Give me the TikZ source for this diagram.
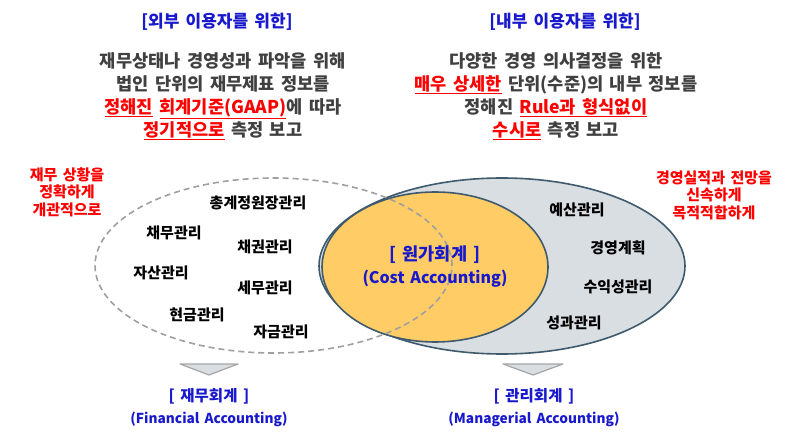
\documentclass[tikz,border=0pt]{standalone}
\usepackage{fontspec}
\setmainfont{Noto Sans CJK KR}[WordSpace=1.6]
\usepackage{xcolor}
\usetikzlibrary{positioning}
\definecolor{titleblue}{RGB}{24,24,204}
\definecolor{bodygray}{RGB}{64,64,64}
\definecolor{hired}{RGB}{255,0,0}
\definecolor{edgeblue}{RGB}{62,90,108}
\definecolor{costorange}{RGB}{255,204,102}
\definecolor{mgmtgray}{RGB}{217,222,227}
\newcommand{\redul}[1]{\textcolor{hired}{\underline{#1}}}
\newcommand{\fsz}[1]{\fontsize{#1}{#1}\selectfont}

\begin{document}
\begin{tikzpicture}[x=1pt, y=-1pt,
  title/.style={font=\bfseries\fontsize{17}{20}\selectfont, text=titleblue},
  body/.style={font=\bfseries\fontsize{17.6}{23}\selectfont, text=bodygray, align=center},
  note/.style={font=\bfseries\fontsize{15}{17.5}\selectfont, text=hired, align=center},
  item/.style={font=\bfseries\fontsize{15}{16}\selectfont, inner sep=1pt},
  acct/.style={font=\bfseries\fontsize{15}{22}\selectfont, text=titleblue, align=center},
  marker/.style={draw=gray!70, fill=mgmtgray, line width=1.2pt, line join=round}]
\useasboundingbox (0,0) rectangle (800,438);

% ellipses
\draw[edgeblue, line width=1.6pt, fill=mgmtgray] (502,266) ellipse [x radius=183pt, y radius=88pt];
\draw[edgeblue, line width=1.6pt, fill=costorange] (435,267) ellipse [x radius=113pt, y radius=75pt];
\draw[gray!75, line width=1.6pt, dashed, dash pattern=on 6pt off 4pt] (273.5,265.5) ellipse [x radius=178.5pt, y radius=87.5pt];

% headings
\node[title] (extuser) at (217,22) {[외부 이용자를 위한]};
\node[title] (intuser) at (565,22) {[내부 이용자를 위한]};
\node[body] (extdesc) at (223,96) {재무상태나 경영성과 파악을 위해\\
  법인 단위의 재무제표 정보를\\
  \redul{정해진} \redul{회계기준(GAAP)}에 따라\\
  \redul{정기적으로} 측정 보고};
\node[body] (intdesc) at (556,96) {다양한 경영 의사결정을 위한\\
  \redul{매우 상세한} 단위(수준)의 내부 정보를\\
  정해진 \redul{Rule과 형식없이}\\
  \redul{수시로} 측정 보고};

% side notes
\node[note] (extnote) at (67,192) {재무 상황을\\ 정확하게\\ 개관적으로};
\node[note] (intnote) at (714,195) {경영실적과 전망을\\ 신속하게\\ 목적적합하게};

% financial items
\node[item] (ledger) at (258,203) {총계정원장관리};
\node[item] (payable) at (174,233) {채무관리};
\node[item] (receiv) at (265,247) {채권관리};
\node[item] (asset) at (161,273) {자산관리};
\node[item] (tax) at (265,288) {세무관리};
\node[item] (cash) at (197,315) {현금관리};
\node[item] (fund) at (281,332) {자금관리};

% managerial items
\node[item] (budget) at (577,210) {예산관리};
\node[item] (plan) at (618,248) {경영계획};
\node[item] (profit) at (618,287) {수익성관리};
\node[item] (perf) at (574,323) {성과관리};

% cost accounting
\node[acct, font=\bfseries\fontsize{16}{23}\selectfont] (cost) at (435,267)
  {{\fsz{17.5}[ 원가회계 ]}\\ (Cost Accounting)};

% markers and names
\draw[marker] (180,364) -- (238,364) -- (209,375) -- cycle;
\draw[marker] (503,364) -- (563,364) -- (533,375) -- cycle;
\node[acct, font=\bfseries\fontsize{13.7}{22}\selectfont] (fin) at (209,408)
  {{\fsz{15.5}[ 재무회계 ]}\\ (Financial Accounting)};
\node[acct, font=\bfseries\fontsize{13.7}{22}\selectfont] (mgr) at (534,408)
  {{\fsz{15.5}[ 관리회계 ]}\\ (Managerial Accounting)};
\end{tikzpicture}
\end{document}
